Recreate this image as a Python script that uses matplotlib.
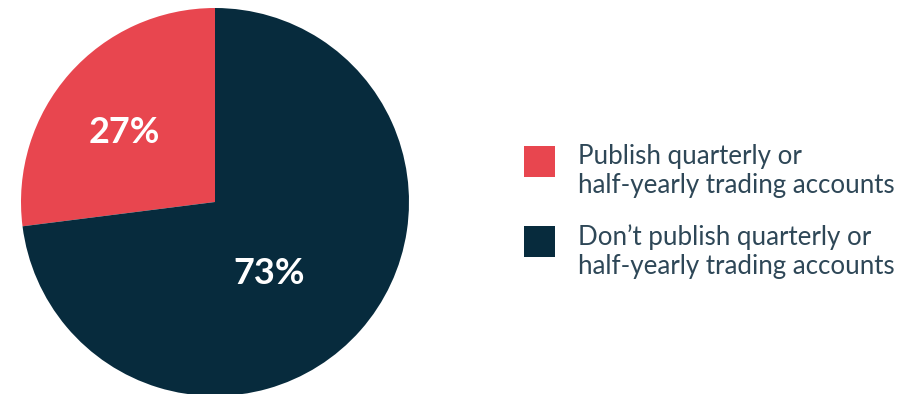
import matplotlib
matplotlib.use("Agg")
import matplotlib.pyplot as plt
from matplotlib.patches import Rectangle

# Share of companies by trading-account publication practice
labels = ["Publish quarterly or\nhalf-yearly trading accounts",
          "Don\u2019t publish quarterly or\nhalf-yearly trading accounts"]
shares = [27, 73]
colors = ["#E8464F", "#072B3D"]

W, H = 915, 394
fig = plt.figure(figsize=(W / 100, H / 100), dpi=100)

# Pie axes: centre (215, 202) px, radius 194 px
cx, cy, r = 215, 202, 194
ax = fig.add_axes([(cx - r) / W, (H - cy - r) / H, 2 * r / W, 2 * r / H])
ax.pie(shares, colors=colors, startangle=90, counterclock=True,
       wedgeprops=dict(linewidth=0))
ax.set_xlim(-1, 1)
ax.set_ylim(-1, 1)
ax.set_aspect("equal")
ax.axis("off")

# Percentage labels inside the slices
label_pos = [(-0.47, 0.36), (0.28, -0.37)]
for v, (x, y) in zip(shares, label_pos):
    ax.text(x, y, f"{v}%", ha="center", va="center", color="white",
            fontsize=26, fontweight="bold", family="Lato")

# Legend
text_color = "#2E4757"
rows_top = [146, 226]
for lab, col, top in zip(labels, colors, rows_top):
    fig.patches.append(Rectangle((524 / W, (H - top - 31) / H), 31 / W, 31 / H,
                                 transform=fig.transFigure, facecolor=col,
                                 edgecolor="none"))
    fig.text(578 / W, (H - top + 2) / H, lab, ha="left", va="top",
             color=text_color, fontsize=18.6, family="Lato", linespacing=1.2)

fig.savefig("out.png", dpi=100)
